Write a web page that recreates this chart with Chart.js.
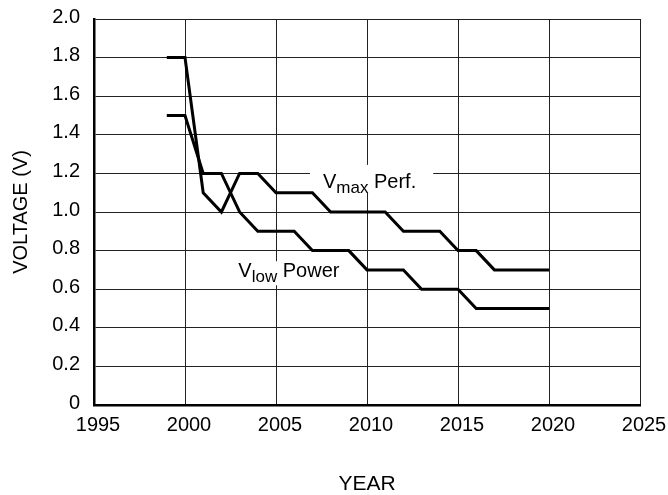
<!DOCTYPE html>
<html>
<head>
<meta charset="utf-8">
<script src="https://cdn.jsdelivr.net/npm/chart.js@4/dist/chart.umd.min.js"></script>
<style>
  html, body { margin: 0; padding: 0; background: #fff; }
  #wrap { width: 668px; height: 495px; }
</style>
</head>
<body>
<div id="wrap"><canvas id="chart" width="668" height="495"></canvas></div>
<script>
/* ---------- Dados ---------- */
const years      = [1999, 2000, 2001, 2002, 2003, 2004, 2005, 2006, 2007, 2008, 2009,
                    2010, 2011, 2012, 2013, 2014, 2015, 2016, 2017, 2018, 2019, 2020];
const vmaxPerf   = [1.8, 1.8, 1.1, 1.0, 1.2, 1.2, 1.1, 1.1, 1.1, 1.0, 1.0,
                    1.0, 1.0, 0.9, 0.9, 0.9, 0.8, 0.8, 0.7, 0.7, 0.7, 0.7];
const vlowPower  = [1.5, 1.5, 1.2, 1.2, 1.0, 0.9, 0.9, 0.9, 0.8, 0.8, 0.8,
                    0.7, 0.7, 0.7, 0.6, 0.6, 0.6, 0.5, 0.5, 0.5, 0.5, 0.5];
const xTickLabels = ['1995', '2000', '2005', '2010', '2015', '2020', '2025'];
const yTickLabels = ['0', '0.2', '0.4', '0.6', '0.8', '1.0', '1.2', '1.4', '1.6', '1.8', '2.0'];

/* ---------- Rótulos das séries (texto sobre fundo branco) ---------- */
const FONT = '"Liberation Sans", Arial, Helvetica, sans-serif';
const seriesLabels = [
  { main: 'V', sub: 'max', rest: ' Perf.', x: 2007.58, y: 1.125, padL: 13, padR: 17, top: 23, bot: 5 },
  { main: 'V', sub: 'low', rest: ' Power', x: 2002.93, y: 0.662, padL: 13, padR: 17, top: 16, bot: 8 },
];

const labelPlugin = {
  id: 'seriesLabels',
  beforeDatasetsDraw(chart) {
    const { ctx, scales: { x, y } } = chart;
    ctx.save();
    seriesLabels.forEach(l => {
      const px = x.getPixelForValue(l.x);
      const py = y.getPixelForValue(l.y);
      ctx.font = '20px ' + FONT;
      const w1 = ctx.measureText(l.main).width;
      const w3 = ctx.measureText(l.rest).width;
      ctx.font = '17px ' + FONT;
      const w2 = ctx.measureText(l.sub).width;
      ctx.fillStyle = '#fff';
      ctx.fillRect(px - l.padL, py - l.top, w1 + w2 + w3 + l.padL + l.padR, l.top + l.bot);
      ctx.fillStyle = '#000';
      ctx.textBaseline = 'alphabetic';
      ctx.textAlign = 'left';
      ctx.font = '20px ' + FONT;
      ctx.fillText(l.main, px, py);
      ctx.fillText(l.rest, px + w1 + w2, py);
      ctx.font = '17px ' + FONT;
      ctx.fillText(l.sub, px + w1, py + 5);
    });
    ctx.restore();
  }
};

const lineStyle = {
  borderColor: '#000', borderWidth: 3, pointRadius: 0, tension: 0,
  borderCapStyle: 'butt', borderJoinStyle: 'miter', fill: false,
};

new Chart(document.getElementById('chart'), {
  type: 'line',
  data: {
    datasets: [
      { label: 'Vmax Perf.', data: years.map((x, i) => ({ x, y: vmaxPerf[i] })), ...lineStyle },
      { label: 'Vlow Power', data: years.map((x, i) => ({ x, y: vlowPower[i] })), ...lineStyle },
    ],
  },
  options: {
    responsive: false,
    animation: false,
    layout: { padding: { top: 19, right: 28, left: 0, bottom: 0 } },
    plugins: { legend: { display: false }, tooltip: { enabled: false } },
    scales: {
      x: {
        type: 'linear', min: 1995, max: 2025,
        afterFit: s => { s.height = 90; s.paddingLeft = 0; s.paddingRight = 0; },
        ticks: {
          stepSize: 5, padding: 8, labelOffset: 4, color: '#000', maxRotation: 0,
          font: { family: FONT, size: 20 },
          callback: (v, i) => xTickLabels[i],
        },
        grid: { color: '#222', lineWidth: 1, drawTicks: false },
        border: { color: '#000', width: 2.5 },
        title: {
          display: true, text: 'YEAR', color: '#000',
          font: { family: FONT, size: 21, lineHeight: 1 }, padding: { top: 0, bottom: 0 },
        },
      },
      y: {
        min: 0, max: 2.0,
        afterFit: s => { s.width = 94; s.paddingTop = 0; s.paddingBottom = 0; },
        ticks: {
          stepSize: 0.2, padding: 14, labelOffset: -2, color: '#000',
          font: { family: FONT, size: 20 },
          callback: (v, i) => yTickLabels[i],
        },
        grid: { color: '#222', lineWidth: 1, drawTicks: false },
        border: { color: '#000', width: 2.5 },
        title: {
          display: true, text: 'VOLTAGE (V)', color: '#000',
          font: { family: FONT, size: 20, lineHeight: 1.2 }, padding: { top: 9, bottom: 0 },
        },
      },
    },
  },
  plugins: [labelPlugin],
});
</script>
</body>
</html>
